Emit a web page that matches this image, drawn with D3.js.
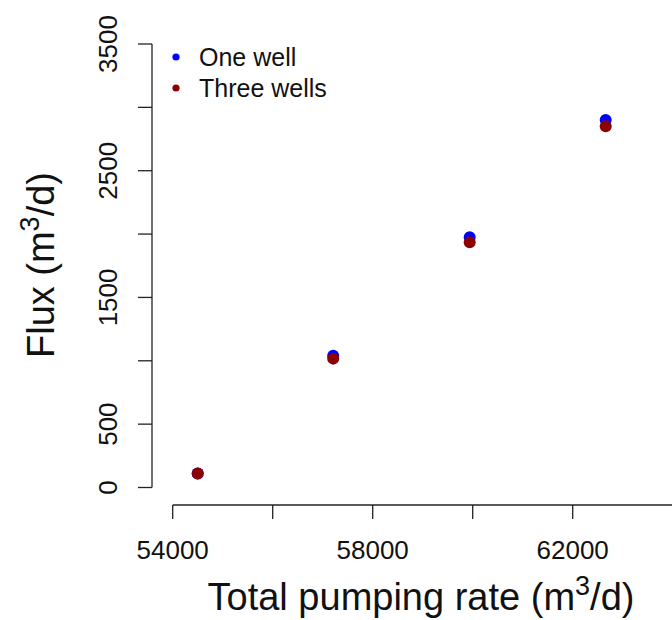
<!DOCTYPE html>
<html>
<head>
<meta charset="utf-8">
<script src="https://cdn.jsdelivr.net/npm/d3@7"></script>
<style>
  body { margin: 0; background: #fff; }
  svg { display: block; font-family: Arial, "Liberation Sans", sans-serif; }
</style>
</head>
<body>
<div id="chart"></div>
<script>
// ---- data ----
var pumpingRate = [54500, 57210, 59940, 62660];
var oneWell     = [110, 1040, 1975, 2900];
var threeWells  = [110, 1017, 1935, 2850];
var seriesNames = ["One well", "Three wells"];
var seriesColors = ["#0000ff", "#8b0000"];
var xTicks = [54000, 56000, 58000, 60000, 62000, 64000];
var xTickLabels = [54000, 58000, 62000];
var yTicks = [0, 500, 1000, 1500, 2000, 2500, 3000, 3500];
var yTickLabels = [0, 500, 1500, 2500, 3500];

var W = 672, H = 620;

var svg = d3.select("#chart").append("svg")
	.attr("width", W)
	.attr("height", H);

var x = d3.scaleLinear().domain([54000, 64000]).range([172.7, 672.7]);
var y = d3.scaleLinear().domain([0, 3500]).range([487.5, 44]);

var axisX = 505, axisY = 152, tickLen = 14;

// y axis
var gy = svg.append("g").attr("stroke", "#222").attr("stroke-width", 1.3);
gy.append("line")
	.attr("x1", axisY).attr("x2", axisY)
	.attr("y1", y(0)).attr("y2", y(3500));
gy.selectAll(".ytick")
	.data(yTicks)
	.enter().append("line")
	.attr("x1", axisY - tickLen).attr("x2", axisY)
	.attr("y1", function(d) { return y(d); })
	.attr("y2", function(d) { return y(d); });

svg.selectAll(".ylab")
	.data(yTickLabels)
	.enter().append("text")
	.attr("transform", function(d) { return "translate(117," + y(d) + ") rotate(-90)"; })
	.attr("text-anchor", "middle")
	.style("font-size", "26px")
	.attr("fill", "#111")
	.text(function(d) { return d; });

// x axis
var gx = svg.append("g").attr("stroke", "#222").attr("stroke-width", 1.3);
gx.append("line")
	.attr("x1", x(54000)).attr("x2", x(64000))
	.attr("y1", axisX).attr("y2", axisX);
gx.selectAll(".xtick")
	.data(xTicks)
	.enter().append("line")
	.attr("x1", function(d) { return x(d); })
	.attr("x2", function(d) { return x(d); })
	.attr("y1", axisX).attr("y2", axisX + tickLen);

svg.selectAll(".xlab")
	.data(xTickLabels)
	.enter().append("text")
	.attr("x", function(d) { return x(d); })
	.attr("y", 559)
	.attr("text-anchor", "middle")
	.style("font-size", "26px")
	.attr("fill", "#111")
	.text(function(d) { return d; });

// axis titles
var xt = svg.append("text")
	.attr("x", 421).attr("y", 610)
	.attr("text-anchor", "middle")
	.style("font-size", "38px")
	.attr("fill", "#111");
xt.append("tspan").text("Total pumping rate (m");
xt.append("tspan").attr("dy", -15).style("font-size", "27px").text("3");
xt.append("tspan").attr("dy", 15).text("/d)");

var yt = svg.append("text")
	.attr("transform", "translate(54,265) rotate(-90)")
	.attr("text-anchor", "middle")
	.style("font-size", "38px")
	.attr("fill", "#111");
yt.append("tspan").text("Flux (m");
yt.append("tspan").attr("dy", -15).style("font-size", "27px").text("3");
yt.append("tspan").attr("dy", 15).text("/d)");

// points
[oneWell, threeWells].forEach(function(vals, si) {
	svg.append("g").selectAll("circle")
		.data(vals)
		.enter().append("circle")
		.attr("cx", function(d, i) { return x(pumpingRate[i]); })
		.attr("cy", function(d) { return y(d); })
		.attr("r", 6)
		.attr("fill", seriesColors[si]);
});

// legend
var leg = svg.append("g");
seriesNames.forEach(function(name, i) {
	var ly = 57 + i * 31;
	leg.append("circle")
		.attr("cx", 176).attr("cy", ly)
		.attr("r", 3.6)
		.attr("fill", seriesColors[i]);
	leg.append("text")
		.attr("x", 199).attr("y", ly + 9)
		.style("font-size", "25px")
		.attr("fill", "#111")
		.text(name);
});
</script>
</body>
</html>
